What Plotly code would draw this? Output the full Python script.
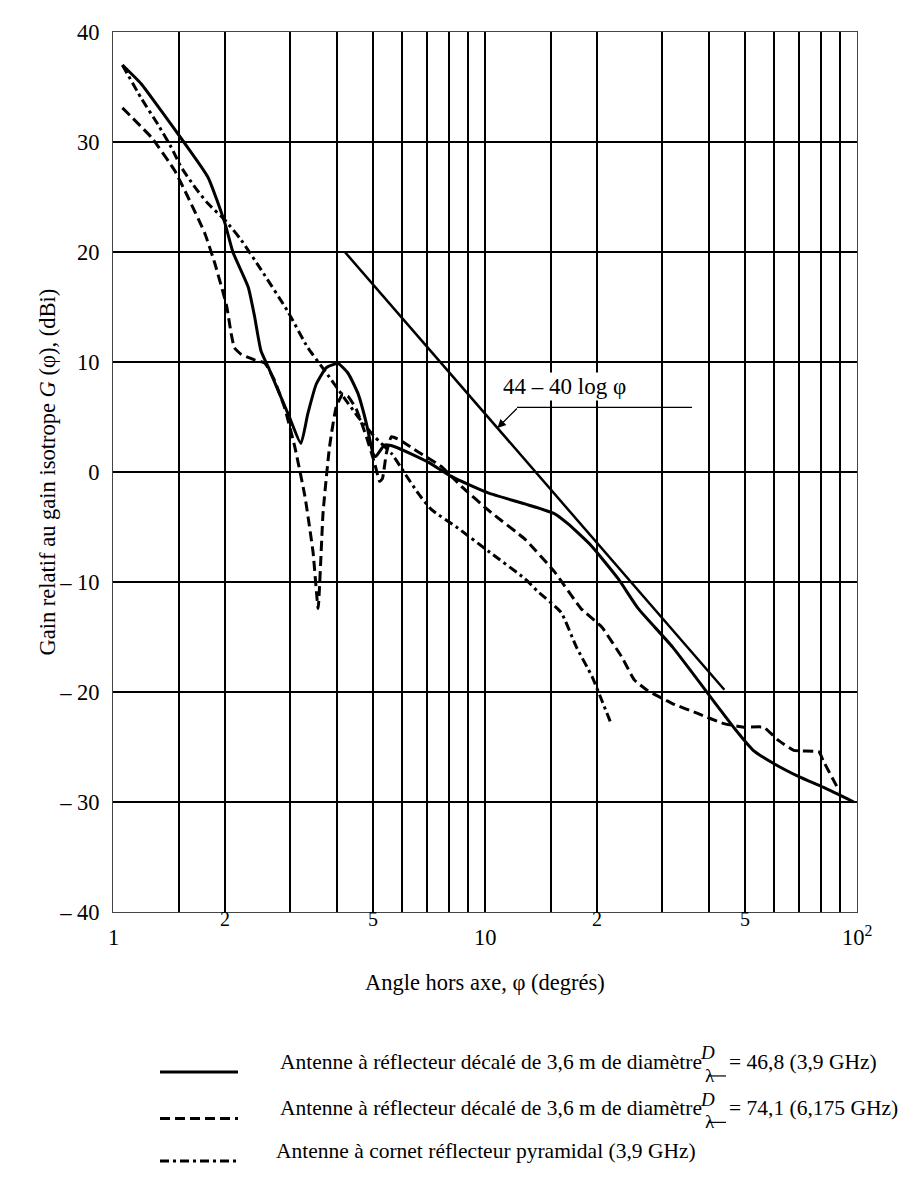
import math
import plotly.graph_objects as go

# Antenne à réflecteur décalé 3,6 m, D/lambda = 46,8 (3,9 GHz)  -- trait plein
phi_468 = [1.06, 1.19, 1.35, 1.55, 1.8, 2.0, 2.1, 2.31, 2.4, 2.5, 2.61, 2.78, 2.98, 3.2,
           3.34, 3.52, 3.75, 4.03, 4.28, 4.56, 4.8, 5.0, 5.08, 5.37, 5.72, 7.03, 8.11, 10.2,
           12.8, 15.4, 16.7, 19.3, 22.8, 25.8, 31.9, 42.3, 47.2, 52.6, 59.7, 69.8, 81.6, 98]
gain_468 = [37, 35.3, 32.8, 30, 26.8, 22.6, 20, 16.8, 14.2, 11.0, 9.6, 7.4, 5.0, 2.6,
            5.3, 8.0, 9.5, 9.85, 9.0, 7.1, 4.4, 1.7, 1.4, 2.45, 2.3, 0.9, -0.4, -1.9,
            -2.9, -3.8, -4.7, -6.7, -9.7, -12.4, -15.9, -21.35, -23.45, -25.3, -26.5, -27.7, -28.7, -30]

# Antenne à réflecteur décalé 3,6 m, D/lambda = 74,1 (6,175 GHz)  -- tirets
phi_741 = [1.06, 1.27, 1.465, 1.59, 1.765, 1.877, 2.02, 2.08, 2.12, 2.21, 2.4, 2.56, 2.72, 2.89,
           3.08, 3.28, 3.45, 3.56, 3.67, 3.82, 3.98, 4.15, 4.28, 4.51, 4.8, 5.05, 5.21, 5.3,
           5.43, 5.6, 5.84, 6.6, 7.63, 8.64, 10.4, 12.8, 15.4, 18.1, 20.6, 23.3, 25.2, 27.3,
           31.9, 37.3, 43.6, 49.5, 56.1, 61.5, 67.6, 79.1, 81.0, 89.6]
gain_741 = [33.1, 30.4, 27.4, 25.0, 21.7, 19.0, 15.1, 12.5, 11.3, 10.7, 10.2, 9.9, 8.3, 5.9,
            2.3, -2.2, -7.3, -12.4, -3.7, 2.3, 5.9, 7.1, 6.9, 5.7, 3.2, 0.8, -0.85, -0.6,
            1.7, 3.2, 3.0, 1.85, 0.5, -1.3, -3.7, -6.1, -9.1, -12.4, -14.1, -16.8, -18.9, -19.85,
            -21.05, -21.95, -22.85, -23.2, -23.2, -24.4, -25.3, -25.45, -26.2, -29.0]

# Antenne à cornet réflecteur pyramidal (3,9 GHz)  -- trait mixte
phi_cornet = [1.06, 1.19, 1.32, 1.435, 1.526, 1.66, 1.8, 2.0, 2.21, 2.5, 2.95, 3.34, 3.71, 4.11,
              4.56, 5.05, 5.6, 6.08, 6.6, 7.17, 8.46, 10.3, 12.8, 13.8, 16.0, 17.6, 19.4, 20.6, 21.9]
gain_cornet = [37, 34.0, 31.6, 29.5, 27.7, 25.9, 24.4, 22.9, 21.1, 18.4, 14.6, 11.3, 9.2, 7.1,
               5.0, 3.2, 1.7, -0.1, -1.9, -3.4, -5.1, -7.3, -9.7, -10.8, -12.75, -15.9, -18.6, -20.75, -23.0]

# 44 - 40 log phi (droite de référence)
phi_ref = [4.2, 44]
gain_ref = [20, -19.8]

x_grid = [1.5, 2, 3, 4, 5, 6, 7, 8, 9, 10, 15, 20, 30, 40, 50, 60, 70, 80, 90, 100]
y_ticks = [-40, -30, -20, -10, 0, 10, 20, 30, 40]
y_labels = ['– 40', '– 30', '– 20', '– 10', '0', '10', '20', '30', '40']
x_main = [(1, '1'), (10, '10'), (100, '10<sup>2</sup>')]
x_minor = [(2, '2'), (5, '5'), (20, '2'), (50, '5')]

FONT = 'Liberation Serif'
FS = 22.5
FL = 21.5  # légende
W, H = 910, 1189
L, R, T, B = 105, 849, 13, 904


def px(x):
    return (x - L) / (R - L)


def py(y):
    return (B - y) / (B - T)


def font(size=FS):
    return dict(family=FONT, size=size, color='black')


fig = go.Figure()
fig.add_trace(go.Scatter(x=phi_468, y=gain_468, mode='lines',
                         line=dict(color='black', width=3, shape='spline', smoothing=0.5)))
fig.add_trace(go.Scatter(x=phi_741, y=gain_741, mode='lines',
                         line=dict(color='black', width=3, dash='10px,5px', shape='spline', smoothing=0.4)))
fig.add_trace(go.Scatter(x=phi_cornet, y=gain_cornet, mode='lines',
                         line=dict(color='black', width=3, dash='9px,4px,3px,4px', shape='spline', smoothing=0.5)))
fig.add_trace(go.Scatter(x=phi_ref, y=gain_ref, mode='lines',
                         line=dict(color='black', width=2.5)))

fig.update_xaxes(type='log', range=[0, 2], tickvals=x_grid, showticklabels=False, ticks='',
                 showgrid=True, gridcolor='black', gridwidth=2, zeroline=False,
                 showline=True, mirror=True, linecolor='#444', linewidth=1)
fig.update_yaxes(range=[-40, 40], tickvals=y_ticks, ticktext=y_labels, ticks='',
                 showgrid=True, gridcolor='black', gridwidth=2, zeroline=False,
                 showline=True, mirror=True, linecolor='#444', linewidth=1,
                 ticklabelstandoff=8, tickfont=font())

ann = []
for v, t in x_main:
    ann.append(dict(x=math.log10(v), y=py(945), xref='x', yref='paper', text=t,
                    showarrow=False, font=font()))
for v, t in x_minor:
    ann.append(dict(x=math.log10(v), y=py(924), xref='x', yref='paper', text=t,
                    showarrow=False, font=font(20)))

ann.append(dict(x=0.5, y=py(990), xref='paper', yref='paper', showarrow=False,
                text='Angle hors axe, φ (degrés)', font=font()))
ann.append(dict(x=px(24), y=0.5, xref='paper', yref='paper', showarrow=False, textangle=-90,
                text='Gain relatif au gain isotrope <i>G</i> (φ), (dBi)', font=font()))

# étiquette de la droite 44 - 40 log phi
ann.append(dict(x=px(620), y=py(372), xref='paper', yref='paper', showarrow=False,
                text='44 – 40 log φ', font=font(23), bgcolor='white'))
ann.append(dict(x=math.log10(10.8), y=4.0, xref='x', yref='y', text='', showarrow=True,
                ax=21, ay=-21, arrowhead=2, arrowsize=1.3, arrowwidth=1.3, arrowcolor='black'))

shapes = [dict(type='line', xref='paper', yref='paper', x0=px(509), x1=px(684),
               y0=py(393), y1=py(393), line=dict(color='black', width=1.3))]

# légende
rows = [1070, 1117, 1160]
dashes = ['solid', '10px,5px', '9px,4px,3px,4px']
for yy, d in zip(rows, dashes):
    shapes.append(dict(type='line', xref='paper', yref='paper', x0=px(152), x1=px(230),
                       y0=py(yy - 4), y1=py(yy - 4), line=dict(color='black', width=3, dash=d)))

frac_x = 709
for yy, val in zip(rows[:2], ['= 46,8 (3,9 GHz)', '= 74,1 (6,175 GHz)']):
    ann.append(dict(x=px(frac_x - 13), y=py(yy), xref='paper', yref='paper', xanchor='right',
                    showarrow=False, text='Antenne à réflecteur décalé de 3,6 m de diamètre',
                    font=font(FL)))
    ann.append(dict(x=px(frac_x), y=py(yy - 11), xref='paper', yref='paper', showarrow=False,
                    text='<i>D</i>', font=font(19)))
    ann.append(dict(x=px(frac_x), y=py(yy + 12), xref='paper', yref='paper', showarrow=False,
                    text='λ', font=font(19)))
    shapes.append(dict(type='line', xref='paper', yref='paper', x0=px(frac_x - 9),
                       x1=px(frac_x + 9), y0=py(yy), y1=py(yy),
                       line=dict(color='black', width=1.2)))
    ann.append(dict(x=px(frac_x + 10), y=py(yy), xref='paper', yref='paper', xanchor='left',
                    showarrow=False, text=val, font=font(FL)))
ann.append(dict(x=px(266), y=py(rows[2]), xref='paper', yref='paper', xanchor='left',
                showarrow=False, text='Antenne à cornet réflecteur pyramidal (3,9 GHz)',
                font=font(FL)))

fig.update_layout(width=W, height=H, showlegend=False, plot_bgcolor='white',
                  paper_bgcolor='white', margin=dict(l=L, r=W - R, t=T, b=H - B),
                  annotations=ann, shapes=shapes, font=dict(family=FONT, color='black'))

fig.write_html("out.html")
